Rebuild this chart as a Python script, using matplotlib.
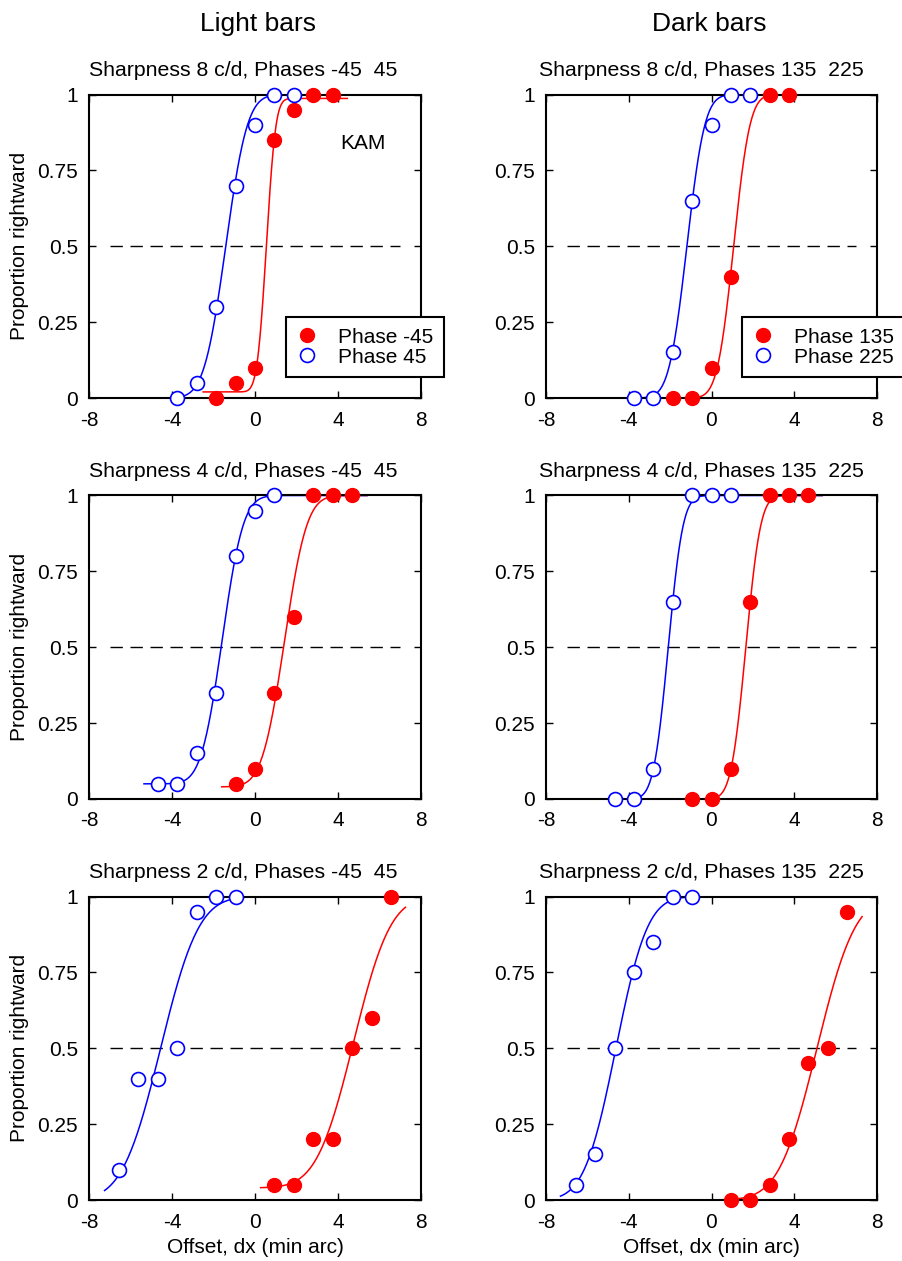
import math
import numpy as np
import matplotlib
matplotlib.use("Agg")
import matplotlib.pyplot as plt
from matplotlib.lines import Line2D

plt.rcParams['font.family'] = ['Liberation Sans', 'DejaVu Sans']
plt.rcParams['font.size'] = 15
plt.rcParams['axes.unicode_minus'] = False

# ---------------------------------------------------------------------------
# data: offsets (min arc) and proportion "rightward" responses
# ---------------------------------------------------------------------------
# light bars, 8 c/d
light8_red_x = [-1.875, -0.9375, 0, 0.9375, 1.875, 2.8125, 3.75]
light8_red_y = [0, 0.05, 0.10, 0.85, 0.95, 1, 1]
light8_blue_x = [-3.75, -2.8125, -1.875, -0.9375, 0, 0.9375, 1.875]
light8_blue_y = [0, 0.05, 0.30, 0.70, 0.90, 1, 1]
# dark bars, 8 c/d
dark8_red_x = [-1.875, -0.9375, 0, 0.9375, 2.8125, 3.75]
dark8_red_y = [0, 0, 0.10, 0.40, 1, 1]
dark8_blue_x = [-3.75, -2.8125, -1.875, -0.9375, 0, 0.9375, 1.875]
dark8_blue_y = [0, 0, 0.15, 0.65, 0.90, 1, 1]
# light bars, 4 c/d
light4_red_x = [-0.9375, 0, 0.9375, 1.875, 2.8125, 3.75, 4.6875]
light4_red_y = [0.05, 0.10, 0.35, 0.60, 1, 1, 1]
light4_blue_x = [-4.6875, -3.75, -2.8125, -1.875, -0.9375, 0, 0.9375]
light4_blue_y = [0.05, 0.05, 0.15, 0.35, 0.80, 0.95, 1]
# dark bars, 4 c/d
dark4_red_x = [-0.9375, 0, 0.9375, 1.875, 2.8125, 3.75, 4.6875]
dark4_red_y = [0, 0, 0.10, 0.65, 1, 1, 1]
dark4_blue_x = [-4.6875, -3.75, -2.8125, -1.875, -0.9375, 0, 0.9375]
dark4_blue_y = [0, 0, 0.10, 0.65, 1, 1, 1]
# light bars, 2 c/d
light2_red_x = [0.9375, 1.875, 2.8125, 3.75, 4.6875, 5.625, 6.5625]
light2_red_y = [0.05, 0.05, 0.20, 0.20, 0.50, 0.60, 1.0]
light2_blue_x = [-6.5625, -5.625, -4.6875, -3.75, -2.8125, -1.875, -0.9375]
light2_blue_y = [0.10, 0.40, 0.40, 0.50, 0.95, 1, 1]
# dark bars, 2 c/d
dark2_red_x = [0.9375, 1.875, 2.8125, 3.75, 4.6875, 5.625, 6.5625]
dark2_red_y = [0, 0, 0.05, 0.20, 0.45, 0.50, 0.95]
dark2_blue_x = [-6.5625, -5.625, -4.6875, -3.75, -2.8125, -1.875, -0.9375]
dark2_blue_y = [0.05, 0.15, 0.50, 0.75, 0.85, 1, 1]

# fitted cumulative-gaussian parameters: (mu, sigma, guess, lapse, x_from, x_to)
light8_red_fit = (0.55, 0.35, 0.02, 0.013, -2.5, 4.45)
light8_blue_fit = (-1.41, 0.82, 0.0, 0.0, -4.3, 4.45)
dark8_red_fit = (1.07, 0.62, 0.0, 0.0, -2.55, 4.4)
dark8_blue_fit = (-1.19, 0.68, 0.0, 0.0, -4.5, 4.4)
light4_red_fit = (1.42, 0.85, 0.04, 0.0, -1.6, 5.4)
light4_blue_fit = (-1.58, 0.80, 0.05, 0.0, -5.35, 5.4)
dark4_red_fit = (1.66, 0.56, 0.0, 0.0, -1.65, 5.35)
dark4_blue_fit = (-2.09, 0.56, 0.0, 0.0, -5.4, 5.35)
light2_red_fit = (4.75, 1.40, 0.04, 0.0, 0.27, 7.25)
light2_blue_fit = (-4.55, 1.45, 0.0, 0.0, -7.25, 7.5)
dark2_red_fit = (5.1, 1.45, 0.0, 0.0, 0.27, 7.28)
dark2_blue_fit = (-4.62, 1.2, 0.0, 0.0, -7.3, 7.3)

titles = ["Sharpness 8 c/d, Phases -45  45", "Sharpness 8 c/d, Phases 135  225",
          "Sharpness 4 c/d, Phases -45  45", "Sharpness 4 c/d, Phases 135  225",
          "Sharpness 2 c/d, Phases -45  45", "Sharpness 2 c/d, Phases 135  225"]
legend_labels = [["Phase -45", "Phase 45"], ["Phase 135", "Phase 225"]]
col_headers = ["Light bars", "Dark bars"]
xticks = [-8, -4, 0, 4, 8]
yticks = [0, 0.25, 0.5, 0.75, 1]
yticklabels = ["0", "0.25", "0.5", "0.75", "1"]

panels = [
    (light8_red_x, light8_red_y, light8_blue_x, light8_blue_y, light8_red_fit, light8_blue_fit),
    (dark8_red_x, dark8_red_y, dark8_blue_x, dark8_blue_y, dark8_red_fit, dark8_blue_fit),
    (light4_red_x, light4_red_y, light4_blue_x, light4_blue_y, light4_red_fit, light4_blue_fit),
    (dark4_red_x, dark4_red_y, dark4_blue_x, dark4_blue_y, dark4_red_fit, dark4_blue_fit),
    (light2_red_x, light2_red_y, light2_blue_x, light2_blue_y, light2_red_fit, light2_blue_fit),
    (dark2_red_x, dark2_red_y, dark2_blue_x, dark2_blue_y, dark2_red_fit, dark2_blue_fit),
]


def psychometric(fit):
    mu, sigma, g, lapse, x0, x1 = fit
    xs = np.linspace(x0, x1, 300)
    phi = np.array([0.5 * (1 + math.erf((v - mu) / (sigma * math.sqrt(2)))) for v in xs])
    return xs, g + (1 - g - lapse) * phi


W, H = 902, 1261
fig = plt.figure(figsize=(W / 100, H / 100), dpi=100)

col_left = [89 / W, 546 / W]
col_width = [332 / W, 331 / W]
row_bottom = [1 - 398 / H, 1 - 799 / H, 1 - 1200 / H]
row_height = 303.5 / H
title_x = [0.465, 0.47]

ms = 10
for i, (rx, ry, bx, by, rfit, bfit) in enumerate(panels):
    row, col = divmod(i, 2)
    ax = fig.add_axes([col_left[col], row_bottom[row], col_width[col], row_height])

    # 50% reference line
    ax.plot([-7, 7], [0.5, 0.5], color='black', lw=1.0, dashes=(8.9, 5.5), zorder=1)

    xs, ys = psychometric(rfit)
    ax.plot(xs, ys, color='red', lw=1.1, zorder=2)
    xs, ys = psychometric(bfit)
    ax.plot(xs, ys, color='blue', lw=1.1, zorder=2)

    ax.plot(rx, ry, 'o', color='red', mec='red', ms=ms, zorder=3, clip_on=False)
    ax.plot(bx, by, 'o', color='blue', mfc='white', mec='blue', mew=1.2, ms=ms,
            zorder=4, clip_on=False)

    ax.set_xlim(-8, 8)
    ax.set_ylim(0, 1)
    ax.set_xticks(xticks)
    ax.set_yticks(yticks)
    ax.set_yticklabels(yticklabels)
    ax.tick_params(direction='in', top=True, right=True, length=5, width=1.0,
                   labelsize=15)
    ax.tick_params(axis='y', pad=8)
    ax.tick_params(axis='x', pad=9)
    for s in ax.spines.values():
        s.set_linewidth(1.5)

    ax.set_title(titles[i], fontsize=15.3, pad=13, x=title_x[col])

    if col == 0:
        ax.set_ylabel("Proportion rightward", fontsize=15)
        ax.yaxis.set_label_coords(-0.181, 0.5)
    if row == 2:
        ax.set_xlabel("Offset, dx (min arc)", fontsize=15)
        ax.xaxis.set_label_coords(0.5, -0.125)

    if row == 0:
        handles = [Line2D([], [], ls='none', marker='o', color='red', ms=ms),
                   Line2D([], [], ls='none', marker='o', mfc='white', mec='blue',
                          mew=1.2, ms=ms)]
        leg = ax.legend(handles, legend_labels[col], loc='upper left',
                        bbox_to_anchor=(0.593, 0.266), borderaxespad=0,
                        fancybox=False, framealpha=1, edgecolor='black',
                        fontsize=15, labelspacing=0.05, handlelength=1.0,
                        handletextpad=1.0, borderpad=0.5)
        leg.get_frame().set_linewidth(1.5)
        leg.set_zorder(10)
        if col == 0:
            ax.text(4.1, 0.84, "KAM", fontsize=15, ha='left', va='center')

fig.text(258.5 / W, 1 - 24 / H, col_headers[0], fontsize=19, ha='center', va='center')
fig.text(708.8 / W, 1 - 24 / H, col_headers[1], fontsize=19, ha='center', va='center')

fig.savefig("out.png", dpi=100)
